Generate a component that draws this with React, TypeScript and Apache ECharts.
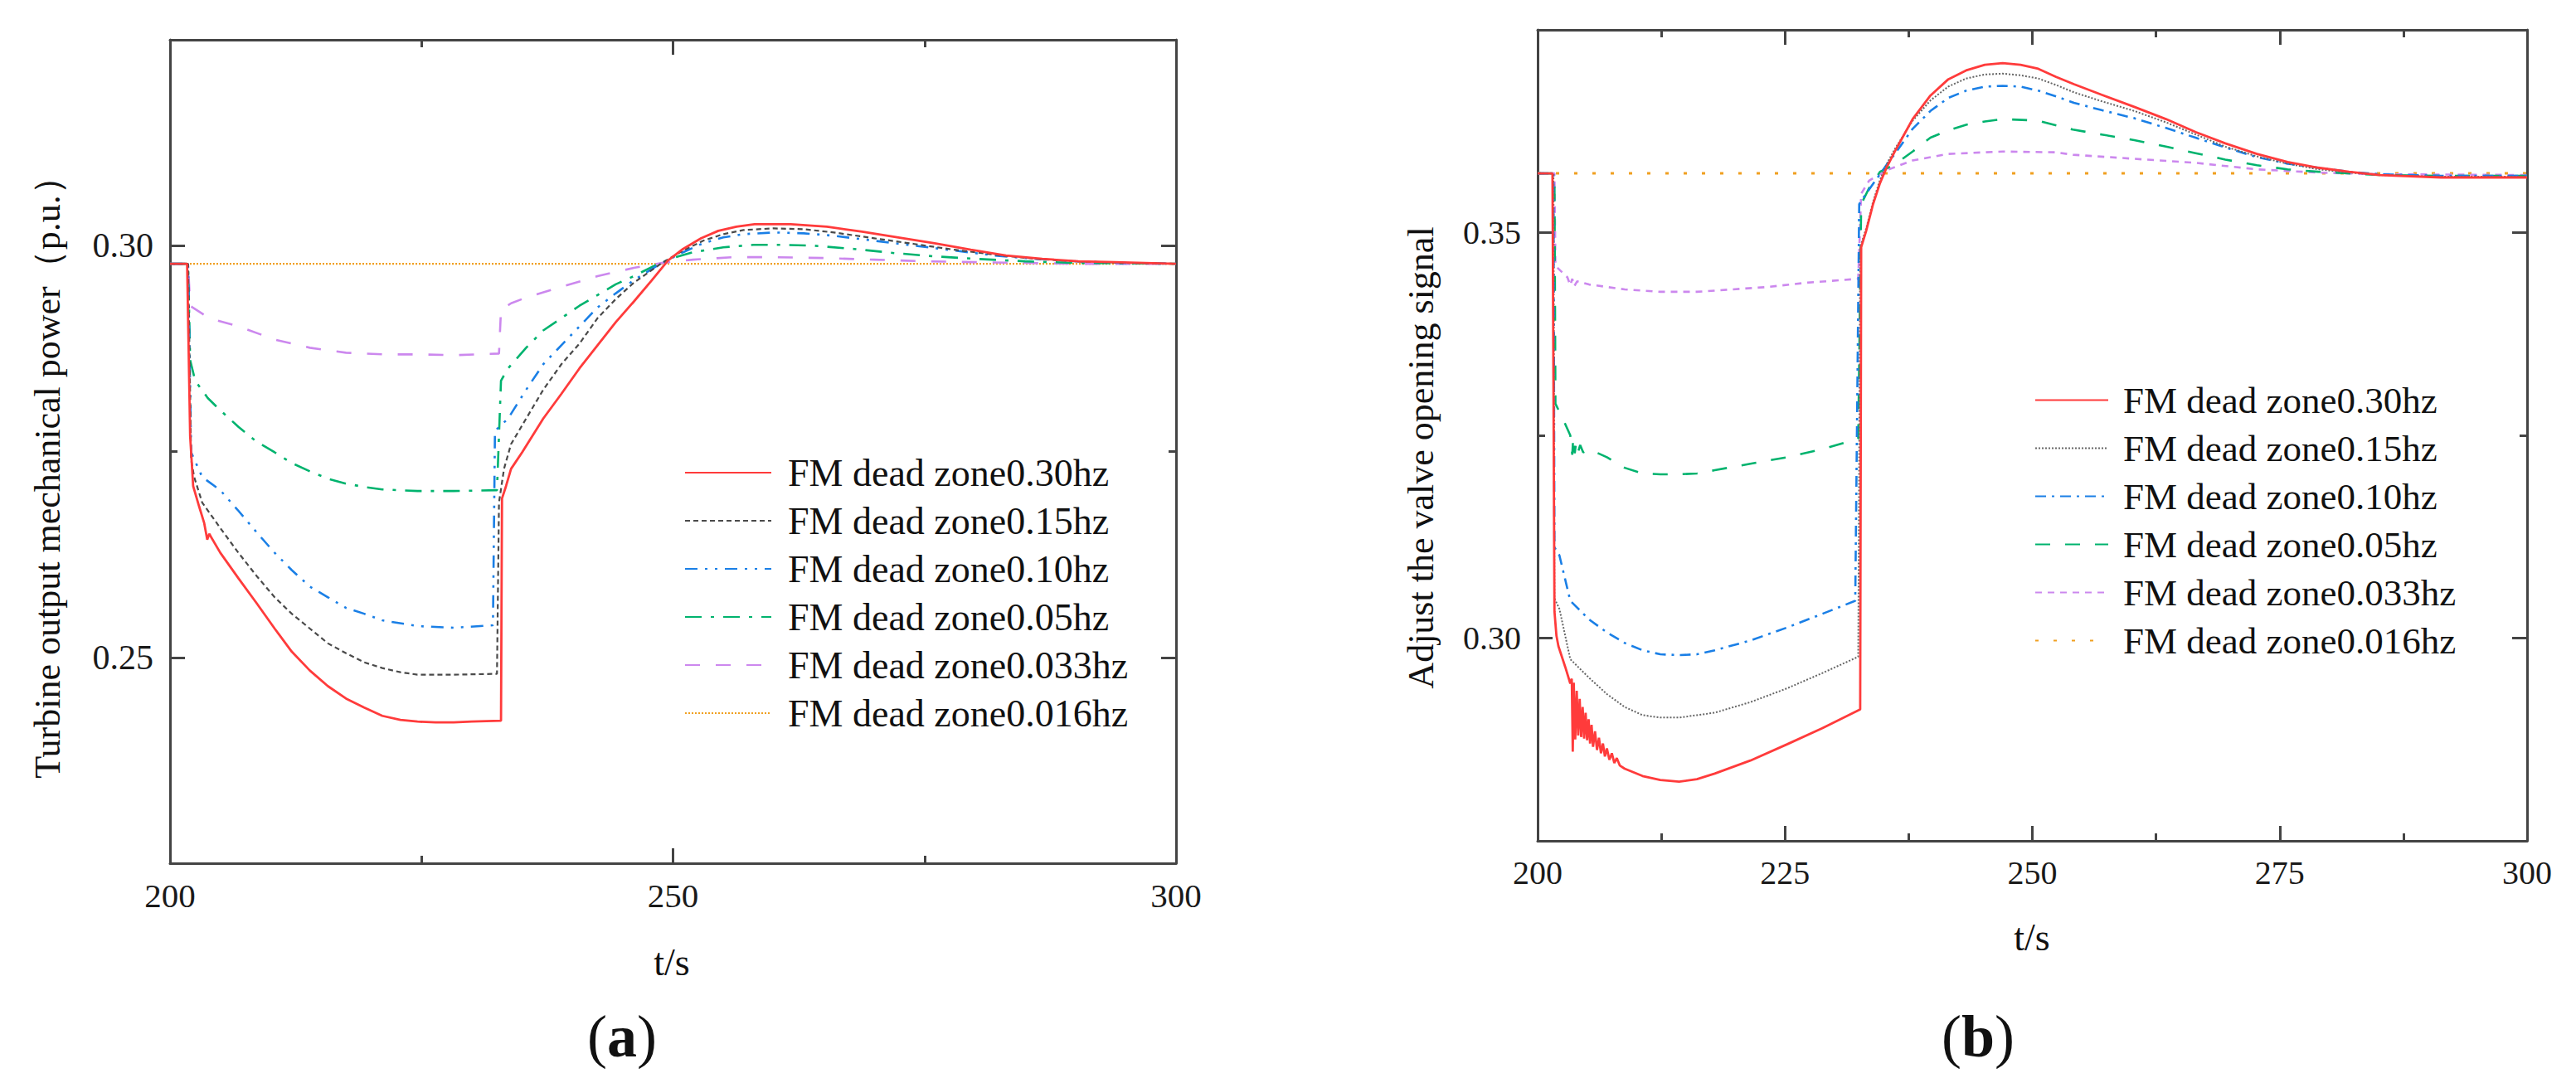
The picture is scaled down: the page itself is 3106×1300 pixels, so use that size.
import React, { useEffect, useRef } from 'react';
import * as echarts from 'echarts';

const FONT = 'Liberation Serif, Times New Roman, serif';

// ---------- labels ----------
const seriesNames = [
  'FM dead zone0.30hz',
  'FM dead zone0.15hz',
  'FM dead zone0.10hz',
  'FM dead zone0.05hz',
  'FM dead zone0.033hz',
  'FM dead zone0.016hz',
];
const titleA = 'Turbine output mechanical power（p.u.）';
const titleB = 'Adjust the valve opening signal';
const xTitle = 't/s';

// ---------- axis ticks ----------
const xRange = [200, 300];
const xIntervalA = 50;
const xIntervalB = 25;
const yRangeA = [0.225, 0.325];
const yLabelsA = [0.25, 0.3];
const yMinorA = [0.275];
const yRangeB = [0.275, 0.375];
const yLabelsB = [0.3, 0.35];
const yMinorB = [0.325];

// ---------- (a) turbine output mechanical power ----------
const powerDZ030: [number, number][] = [
  [200, 0.2978], [201.7, 0.2978], [202.0, 0.2769], [202.3, 0.2708], [202.9, 0.2683], [203.4, 0.2663],
  [203.7, 0.2643], [203.9, 0.265], [205, 0.2627], [206.8, 0.2596], [208.6, 0.2566], [210.4, 0.2535],
  [212.1, 0.2507], [213.9, 0.2484], [215.7, 0.2465], [217.5, 0.245], [219.3, 0.2439], [221.1, 0.2429],
  [222.9, 0.2424], [224.6, 0.2422], [226.4, 0.2421], [228.2, 0.2421], [230, 0.2422], [232.9, 0.2423],
  [233.0, 0.2693], [233.4, 0.2708], [233.9, 0.2729], [235, 0.2749], [237.1, 0.279], [238.9, 0.282],
  [240.7, 0.2851], [242.5, 0.2879], [244.3, 0.2907], [246.1, 0.2932], [247.9, 0.2958], [249.5, 0.2982],
  [251, 0.2996], [252.8, 0.3009], [254.5, 0.3018], [256.3, 0.3023], [258.1, 0.3026], [261.7, 0.3026],
  [265.3, 0.3023], [268.8, 0.3017], [272.4, 0.301], [276, 0.3003], [279.6, 0.2995], [283.1, 0.2988],
  [286.7, 0.2984], [290.3, 0.2981], [293.9, 0.298], [300, 0.2978],
];
const powerDZ015: [number, number][] = [
  [200, 0.2978], [201.8, 0.2978], [202.1, 0.274], [202.4, 0.2719], [203.2, 0.2688], [205, 0.2657],
  [206.8, 0.2627], [208.6, 0.2599], [210.4, 0.2573], [212.1, 0.2553], [213.9, 0.2535], [215.7, 0.2517],
  [217.5, 0.2505], [219.3, 0.2494], [221.1, 0.2487], [222.9, 0.2482], [224.6, 0.2479], [228.2, 0.2479],
  [232.5, 0.248], [232.7, 0.2688], [233.2, 0.2729], [233.9, 0.2759], [235.4, 0.279], [237.1, 0.2825],
  [238.9, 0.2856], [240.7, 0.2881], [242.5, 0.2912], [244.3, 0.2935], [246.1, 0.2955], [248.9, 0.2979],
  [251, 0.2994], [253, 0.3006], [255, 0.3014], [257, 0.3019], [260, 0.3021], [263, 0.302], [266, 0.3016],
  [270, 0.3009], [274, 0.3002], [278, 0.2995], [282, 0.2989], [286, 0.2984], [290, 0.2981], [295, 0.2979],
  [300, 0.2978],
];
const powerDZ010: [number, number][] = [
  [200, 0.2978], [201.8, 0.2978], [202.1, 0.2749], [203.2, 0.2719], [205, 0.2703], [206.8, 0.2678],
  [208.6, 0.2652], [210.4, 0.2627], [212.1, 0.2606], [213.9, 0.2586], [215.7, 0.2573], [217.5, 0.256],
  [219.3, 0.2553], [221.1, 0.2545], [224.6, 0.2538], [228.2, 0.2536], [232.1, 0.2539], [232.3, 0.2775],
  [233.6, 0.279], [235.4, 0.2825], [237.1, 0.2856], [238.9, 0.2879], [240.7, 0.2902], [242.5, 0.2925],
  [244.3, 0.2942], [246.1, 0.2958], [248.6, 0.2977], [251, 0.2992], [253, 0.3003], [255, 0.301],
  [257, 0.3014], [260, 0.3016], [263, 0.3015], [266, 0.3012], [270, 0.3006], [274, 0.3], [278, 0.2994],
  [282, 0.2988], [286, 0.2984], [290, 0.2981], [295, 0.2979], [300, 0.2978],
];
const powerDZ005: [number, number][] = [
  [200, 0.2978], [201.8, 0.2978], [202, 0.2861], [202.5, 0.2836], [203.75, 0.2815], [205, 0.28],
  [206.8, 0.278], [208.6, 0.2762], [210.4, 0.2749], [212.1, 0.2736], [213.9, 0.2726], [215.7, 0.2717],
  [217.5, 0.2711], [219.3, 0.2707], [221.1, 0.2704], [224.6, 0.2702], [228.2, 0.2702], [232.5, 0.2703],
  [232.9, 0.2836], [233.6, 0.2851], [235.4, 0.2876], [237.1, 0.2897], [238.9, 0.2912], [240.7, 0.2927],
  [242.5, 0.294], [244.3, 0.2953], [246.1, 0.2963], [248.2, 0.2976], [250, 0.2985], [252, 0.2992],
  [255, 0.2998], [258, 0.3001], [261, 0.3001], [264, 0.3], [268, 0.2996], [272, 0.2991], [276, 0.2987],
  [280, 0.2984], [285, 0.2981], [290, 0.2979], [300, 0.2978],
];
const powerDZ0033: [number, number][] = [
  [200, 0.2978], [201.8, 0.2978], [202, 0.2927], [203.9, 0.2912], [206.8, 0.2902], [210.4, 0.2886],
  [213.9, 0.2876], [217.5, 0.287], [221.1, 0.2868], [224.6, 0.2868], [228.2, 0.2867], [232.7, 0.2869],
  [232.9, 0.2922], [233.9, 0.293], [235.4, 0.2937], [238.9, 0.295], [242.5, 0.2963], [246.1, 0.2973],
  [248.9, 0.2979], [252, 0.2983], [256, 0.2986], [260, 0.2986], [265, 0.2985], [270, 0.2983],
  [275, 0.2981], [280, 0.298], [290, 0.2978], [300, 0.2978],
];
const powerDZ0016: [number, number][] = [[200, 0.2978], [300, 0.2978]];

// ---------- (b) valve opening signal ----------
const valveDZ030: [number, number][] = [
  [200, 0.3573], [201.5, 0.3573], [201.7, 0.3033], [201.9, 0.3003], [202.1, 0.299], [202.8, 0.2964],
  [203.3, 0.2944], [203.45, 0.295], [203.55, 0.286], [203.65, 0.2945], [203.8, 0.2875], [203.95, 0.2935],
  [204.1, 0.288], [204.25, 0.2925], [204.4, 0.2878], [204.55, 0.2915], [204.7, 0.2876], [204.85, 0.2908],
  [205.0, 0.2874], [205.15, 0.29], [205.3, 0.287], [205.45, 0.2893], [205.6, 0.2866], [205.8, 0.2885],
  [206.0, 0.2862], [206.2, 0.2877], [206.4, 0.2858], [206.6, 0.287], [206.8, 0.2854], [207.0, 0.2864],
  [207.25, 0.285], [207.5, 0.2858], [207.75, 0.2846], [208.0, 0.2852], [208.3, 0.2843], [208.8, 0.2839],
  [210.6, 0.283], [212.4, 0.2825], [214.3, 0.2823], [216.1, 0.2826], [217.9, 0.2833], [221.5, 0.2849],
  [225.2, 0.2869], [228.8, 0.2889], [232.6, 0.2912], [232.7, 0.3482], [233.2, 0.3502], [233.9, 0.3535],
  [234.6, 0.3561], [235.3, 0.3581], [236.1, 0.36], [237.9, 0.364], [239.7, 0.3669], [241.5, 0.3689],
  [243.3, 0.37], [245.2, 0.3707], [247, 0.3709], [248.8, 0.3707], [250.6, 0.3702], [252.4, 0.3692],
  [254.2, 0.3683], [257, 0.367], [260.3, 0.3655], [263.5, 0.364], [266.5, 0.3624], [269.5, 0.361],
  [272.7, 0.3597], [275.8, 0.3587], [278.9, 0.358], [282, 0.3575], [285.1, 0.3571], [291.3, 0.3568],
  [300, 0.3568],
];
const valveDZ015: [number, number][] = [
  [200, 0.3573], [201.6, 0.3573], [201.7, 0.3049], [202.2, 0.3036], [203.3, 0.2974], [205.2, 0.2951],
  [207, 0.2931], [208.8, 0.2915], [210.6, 0.2905], [212.4, 0.2902], [214.3, 0.2902], [216.1, 0.2905],
  [217.9, 0.2908], [221.5, 0.2921], [225.2, 0.2938], [228.8, 0.2957], [232.4, 0.2977], [232.6, 0.3482],
  [233.2, 0.3505], [233.9, 0.3538], [234.6, 0.3565], [235.3, 0.3585], [236.1, 0.3603], [237.9, 0.3638],
  [239.7, 0.3663], [241.5, 0.368], [243.3, 0.369], [245.2, 0.3695], [247, 0.3696], [248.8, 0.3694],
  [250.6, 0.369], [252.4, 0.3682], [254.2, 0.3673], [257, 0.3662], [260.3, 0.365], [263.5, 0.3636],
  [266.5, 0.3621], [269.5, 0.3606], [272.7, 0.3594], [275.8, 0.3585], [278.9, 0.3578], [282, 0.3574],
  [285.1, 0.3571], [291.3, 0.3569], [300, 0.3569],
];
const valveDZ010: [number, number][] = [
  [200, 0.3573], [201.6, 0.3573], [201.7, 0.3112], [202.2, 0.3102], [203.3, 0.3046], [205.2, 0.3023],
  [207, 0.3007], [208.8, 0.2994], [210.6, 0.2985], [212.4, 0.298], [214.3, 0.2979], [216.1, 0.298],
  [217.9, 0.2985], [221.5, 0.2997], [225.2, 0.3013], [228.8, 0.303], [232.1, 0.3046], [232.5, 0.3535],
  [233.2, 0.3548], [233.9, 0.356], [234.6, 0.3572], [235.3, 0.3584], [236.1, 0.3597], [237.9, 0.3628],
  [239.7, 0.365], [241.5, 0.3666], [243.3, 0.3675], [245.2, 0.368], [247, 0.3681], [248.8, 0.368],
  [250.6, 0.3675], [252.4, 0.3668], [254.2, 0.366], [257, 0.3651], [260.3, 0.3641], [263.5, 0.3629],
  [266.5, 0.3617], [269.5, 0.3605], [272.7, 0.3593], [275.8, 0.3585], [278.9, 0.358], [282, 0.3575],
  [285.1, 0.3572], [291.3, 0.357], [300, 0.357],
];
const valveDZ005: [number, number][] = [
  [200, 0.3573], [201.7, 0.3573], [201.8, 0.3289], [202.6, 0.3269], [203.3, 0.325], [203.5, 0.3226],
  [203.6, 0.3248], [203.75, 0.3228], [203.9, 0.3242], [204.1, 0.323], [204.3, 0.3238], [204.6, 0.3229],
  [205.2, 0.3233], [207, 0.3223], [208.8, 0.321], [210.6, 0.3203], [212.4, 0.3202], [214.3, 0.3202],
  [216.1, 0.3203], [217.9, 0.3207], [221.5, 0.3215], [225.2, 0.3223], [228.8, 0.3233], [232.4, 0.3246],
  [232.7, 0.3535], [233.5, 0.3555], [234.6, 0.3575], [236.1, 0.3584], [237.9, 0.36], [239.7, 0.3617],
  [241.5, 0.3626], [243.3, 0.3633], [245.2, 0.3637], [247, 0.364], [250.6, 0.3638], [254.1, 0.3627],
  [257, 0.3621], [260.3, 0.3614], [263.5, 0.3606], [266.5, 0.3598], [269.5, 0.359], [272.7, 0.3583],
  [275.8, 0.3578], [278.9, 0.3575], [285.1, 0.3571], [291.3, 0.357], [300, 0.357],
];
const valveDZ0033: [number, number][] = [
  [200, 0.3573], [201.7, 0.3573], [201.8, 0.3459], [203.0, 0.3445], [203.3, 0.3435], [203.5, 0.3443],
  [203.7, 0.3434], [204, 0.344], [205.2, 0.3436], [208.8, 0.343], [212.4, 0.3427], [216.1, 0.3427],
  [219.7, 0.343], [223.3, 0.3433], [227, 0.3438], [232.4, 0.3443], [232.7, 0.3548], [233.5, 0.3564],
  [235.3, 0.3577], [237.9, 0.3589], [241.5, 0.3597], [247, 0.36], [252.4, 0.3599], [254.1, 0.3596],
  [260.3, 0.3591], [266.5, 0.3586], [272.7, 0.3578], [278.9, 0.3574], [285, 0.3572], [300, 0.3571],
];
const valveDZ0016: [number, number][] = [[200, 0.3573], [300, 0.3573]];

// ---------- styles ----------
const colors = ['#ff3b3b', '#4a4a4a', '#1a7fe6', '#00b36e', '#cc88ee', '#f0a020'];
const colorsB = ['#ff3b3b', '#666666', '#1a7fe6', '#00b36e', '#cc88ee', '#f0a020'];
const dashA: (number[] | 'solid')[] = ['solid', [6, 4], [15, 9, 3, 9, 3, 9], [20, 11, 4, 11], [18, 19], [2, 2]];
const dashB: (number[] | 'solid')[] = ['solid', [2, 2], [13, 7, 3, 7], [18, 18], [8, 7], [4, 18]];
const widthA = [2.8, 2.2, 2.6, 2.6, 2.6, 2.4];
const widthB = [2.8, 2.0, 2.6, 2.6, 2.6, 3.0];

const AXIS_COLOR = '#444';
const LABEL_COLOR = '#1a1a1a';

export default function App() {
  const ref = useRef<HTMLDivElement>(null);

  useEffect(() => {
    if (!ref.current) return;
    const chart = echarts.init(ref.current, undefined, { renderer: 'svg' });

    const axisLine = { show: true, lineStyle: { color: AXIS_COLOR, width: 3 } };

    const makeX = (gridIndex: number, position: 'top' | 'bottom', interval: number, labels: boolean, fontSize: number, margin: number) => ({
      type: 'value',
      gridIndex,
      position,
      min: xRange[0],
      max: xRange[1],
      interval,
      axisLine,
      axisTick: { show: true, inside: true, length: 18, lineStyle: { color: AXIS_COLOR, width: 3 } },
      minorTick: { show: true, splitNumber: 2, length: 9, lineStyle: { color: AXIS_COLOR, width: 3 } },
      splitLine: { show: false },
      minorSplitLine: { show: false },
      axisLabel: {
        show: labels,
        showMinLabel: true,
        showMaxLabel: true,
        fontSize,
        fontFamily: FONT,
        color: LABEL_COLOR,
        margin,
      },
    });

    const makeY = (
      gridIndex: number,
      position: 'left' | 'right',
      range: number[],
      ticks: number[],
      len: number,
      labels: boolean,
      showLine: boolean,
      fontSize: number,
    ) => ({
      type: 'value',
      gridIndex,
      position,
      min: range[0],
      max: range[1],
      axisLine: { ...axisLine, show: showLine },
      axisTick: { show: true, inside: true, length: len, customValues: ticks, lineStyle: { color: AXIS_COLOR, width: 3 } },
      splitLine: { show: false },
      axisLabel: {
        show: labels,
        customValues: ticks,
        formatter: (v: number) => v.toFixed(2),
        fontSize,
        fontFamily: FONT,
        color: LABEL_COLOR,
        margin: 20,
      },
    });

    const dataA = [powerDZ030, powerDZ015, powerDZ010, powerDZ005, powerDZ0033, powerDZ0016];
    const dataB = [valveDZ030, valveDZ015, valveDZ010, valveDZ005, valveDZ0033, valveDZ0016];

    const series: any[] = [];
    for (let i = seriesNames.length - 1; i >= 0; i--) {
      series.push({
        type: 'line',
        name: seriesNames[i],
        xAxisIndex: 0,
        yAxisIndex: 0,
        data: dataA[i],
        symbol: 'none',
        showSymbol: false,
        lineStyle: { color: colors[i], width: widthA[i], type: dashA[i] },
        itemStyle: { color: colors[i] },
      });
    }
    for (let i = seriesNames.length - 1; i >= 0; i--) {
      series.push({
        type: 'line',
        name: seriesNames[i] + '#b',
        xAxisIndex: 2,
        yAxisIndex: 4,
        data: dataB[i],
        symbol: 'none',
        showSymbol: false,
        lineStyle: { color: colorsB[i], width: widthB[i], type: dashB[i] },
        itemStyle: { color: colorsB[i] },
      });
    }

    const legendBase = {
      orient: 'vertical',
      selectedMode: false,
      padding: 0,
      itemHeight: 16,
      itemStyle: { opacity: 0, borderWidth: 0 },
      lineStyle: { inactiveColor: '#ccc' },
      formatter: (n: string) => n.replace('#b', ''),
    };

    const textCommon = { align: 'center', verticalAlign: 'middle', textAlign: 'center', textVerticalAlign: 'middle', fill: '#111' };

    const option: any = {
      animation: false,
      backgroundColor: '#ffffff',
      textStyle: { fontFamily: FONT },
      grid: [
        { left: 205, top: 48, width: 1213, height: 993, containLabel: false },
        { left: 1854, top: 36, width: 1193, height: 978, containLabel: false },
      ],
      xAxis: [
        makeX(0, 'bottom', xIntervalA, true, 41, 18),
        makeX(0, 'top', xIntervalA, false, 41, 18),
        makeX(1, 'bottom', xIntervalB, true, 40, 18),
        makeX(1, 'top', xIntervalB, false, 40, 18),
      ],
      yAxis: [
        makeY(0, 'left', yRangeA, yLabelsA, 18, true, true, 42),
        makeY(0, 'left', yRangeA, yMinorA, 9, false, false, 42),
        makeY(0, 'right', yRangeA, yLabelsA, 18, false, true, 42),
        makeY(0, 'right', yRangeA, yMinorA, 9, false, false, 42),
        makeY(1, 'left', yRangeB, yLabelsB, 18, true, true, 40),
        makeY(1, 'left', yRangeB, yMinorB, 9, false, false, 40),
        makeY(1, 'right', yRangeB, yLabelsB, 18, false, true, 40),
        makeY(1, 'right', yRangeB, yMinorB, 9, false, false, 40),
      ],
      legend: [
        {
          ...legendBase,
          left: 825,
          top: 547,
          itemWidth: 104,
          itemGap: 12,
          data: seriesNames,
          textStyle: { fontSize: 46, fontFamily: FONT, color: '#111', lineHeight: 46, padding: [0, 0, 0, 15] },
        },
        {
          ...legendBase,
          left: 2453,
          top: 460,
          itemWidth: 88,
          itemGap: 13,
          data: seriesNames.map((n) => n + '#b'),
          textStyle: { fontSize: 45, fontFamily: FONT, color: '#111', lineHeight: 45, padding: [0, 0, 0, 13] },
        },
      ],
      graphic: [
        {
          type: 'text',
          x: 57,
          y: 565,
          rotation: Math.PI / 2,
          style: { ...textCommon, text: titleA, fontSize: 44, fontFamily: FONT },
        },
        {
          type: 'text',
          x: 1713,
          y: 552,
          rotation: Math.PI / 2,
          style: { ...textCommon, text: titleB, fontSize: 44, fontFamily: FONT },
        },
        {
          type: 'text',
          x: 810,
          y: 1160,
          style: { ...textCommon, text: xTitle, fontSize: 46, fontFamily: FONT },
        },
        {
          type: 'text',
          x: 2450,
          y: 1130,
          style: { ...textCommon, text: xTitle, fontSize: 46, fontFamily: FONT },
        },
        {
          type: 'text',
          x: 750,
          y: 1250,
          style: {
            ...textCommon,
            text: '{p|(}{b|a}{p|)}',
            rich: {
              p: { fontSize: 72, fontFamily: FONT, fontWeight: 'normal', fill: '#111', color: '#111' },
              b: { fontSize: 72, fontFamily: FONT, fontWeight: 'bold', fill: '#111', color: '#111' },
            },
          },
        },
        {
          type: 'text',
          x: 2385,
          y: 1250,
          style: {
            ...textCommon,
            text: '{p|(}{b|b}{p|)}',
            rich: {
              p: { fontSize: 72, fontFamily: FONT, fontWeight: 'normal', fill: '#111', color: '#111' },
              b: { fontSize: 72, fontFamily: FONT, fontWeight: 'bold', fill: '#111', color: '#111' },
            },
          },
        },
      ],
      series,
    };

    chart.setOption(option);
    return () => chart.dispose();
  }, []);

  return (
    <div
      ref={ref}
      style={{ position: 'absolute', left: 0, top: 0, width: 3106, height: 1300, background: '#fff' }}
    />
  );
}
